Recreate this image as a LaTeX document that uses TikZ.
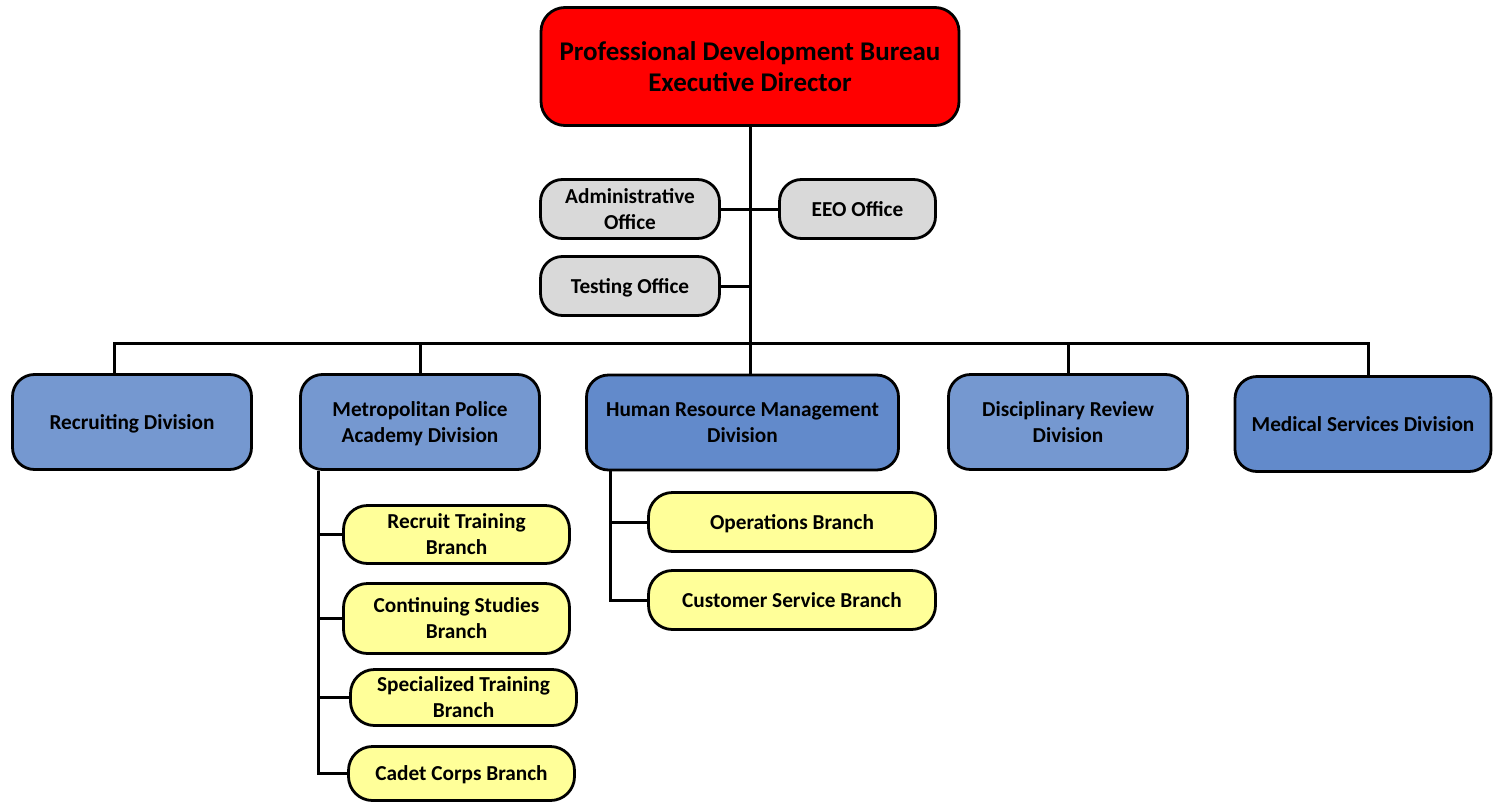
\documentclass[tikz,border=0pt]{standalone}
\usepackage{fontspec}
\setmainfont{Carlito}
\definecolor{execred}{RGB}{255,0,0}
\definecolor{officegray}{RGB}{217,217,217}
\definecolor{divlight}{RGB}{117,152,208}
\definecolor{divdark}{RGB}{98,138,203}
\definecolor{branchyellow}{RGB}{255,255,153}
\tikzset{
  box/.style={draw=black, line width=2.8pt, align=center, inner sep=0pt},
  smallbox/.style={box, text depth=0pt,
    font=\bfseries\fontsize{21.3}{26}\selectfont},
  execbox/.style={box, fill=execred, rounded corners=24pt,
    font=\bfseries\fontsize{27}{31}\selectfont},
  officebox/.style={smallbox, fill=officegray, rounded corners=22pt},
  divbox/.style={smallbox, rounded corners=22pt},
  branchbox/.style={smallbox, fill=branchyellow, rounded corners=24pt},
  conn/.style={draw=black, line width=3pt},
}
\begin{document}
\begin{tikzpicture}[x=1pt,y=-1pt]
\useasboundingbox (0,0) rectangle (1493,803);

% executive
\node[execbox, minimum width=418pt, minimum height=118pt] (exec) at (750,66.5)
  {Professional Development Bureau\\Executive Director};

% staff offices
\node[officebox, minimum width=179pt, minimum height=59pt] (admin) at (630,209)
  {Administrative\\Office};
\node[officebox, minimum width=156pt, minimum height=59pt] (eeo) at (857.5,209)
  {EEO Office};
\node[officebox, minimum width=179pt, minimum height=59pt] (testing) at (630,286)
  {Testing Office};

% divisions
\node[divbox, fill=divlight, minimum width=239pt, minimum height=95pt] (recr) at (132,422)
  {Recruiting Division};
\node[divbox, fill=divlight, minimum width=239pt, minimum height=95pt] (metro) at (420,422)
  {Metropolitan Police\\Academy Division};
\node[divbox, fill=divdark, minimum width=312pt, minimum height=95pt] (hrm) at (742.5,422.5)
  {Human Resource Management\\Division};
\node[divbox, fill=divlight, minimum width=239pt, minimum height=95pt] (disc) at (1068,422)
  {Disciplinary Review\\Division};
\node[divbox, fill=divdark, minimum width=256pt, minimum height=95pt] (med) at (1363,424)
  {Medical Services Division};

% academy branches
\node[branchbox, minimum width=226pt, minimum height=58pt] (rt) at (456.5,534.5)
  {Recruit Training\\Branch};
\node[branchbox, minimum width=226pt, minimum height=70pt] (cs) at (456.5,618.5)
  {Continuing Studies\\Branch};
\node[branchbox, minimum width=226pt, minimum height=56pt] (st) at (463.5,697.5)
  {Specialized Training\\Branch};
\node[branchbox, minimum width=226pt, minimum height=54pt] (cc) at (461.5,773.5)
  {Cadet Corps Branch};

% human resource branches
\node[branchbox, minimum width=287pt, minimum height=59pt] (ops) at (792,522)
  {Operations Branch};
\node[branchbox, minimum width=287pt, minimum height=59pt] (cust) at (792,600)
  {Customer Service Branch};

% connector anchors
\coordinate (trunk) at (750,343);
\coordinate (busL) at (114,343);
\coordinate (busR) at (1368,343);
\coordinate (mtrunk) at (318,773.5);
\coordinate (htrunk) at (610,600);

% executive trunk and staff links
\draw[conn] (exec.south) -- (trunk);
\draw[conn] (admin.east) -- (eeo.west);
\draw[conn] (testing.east) -- (testing.east -| trunk);

% division bus
\draw[conn] (busL |- recr.north) -- (busL) -- (busR) -- (busR |- med.north);
\draw[conn] (metro.north) -- (metro.north |- trunk);
\draw[conn] (trunk) -- (trunk |- hrm.north);
\draw[conn] (disc.north) -- (disc.north |- trunk);

% academy branch links
\draw[conn] (mtrunk |- metro.south) -- (mtrunk) -- (cc.west);
\draw[conn] (rt.west) -- (rt.west -| mtrunk);
\draw[conn] (cs.west) -- (cs.west -| mtrunk);
\draw[conn] (st.west) -- (st.west -| mtrunk);

% human resource branch links
\draw[conn] (htrunk |- hrm.south) -- (htrunk) -- (cust.west);
\draw[conn] (ops.west) -- (ops.west -| htrunk);
\end{tikzpicture}
\end{document}
